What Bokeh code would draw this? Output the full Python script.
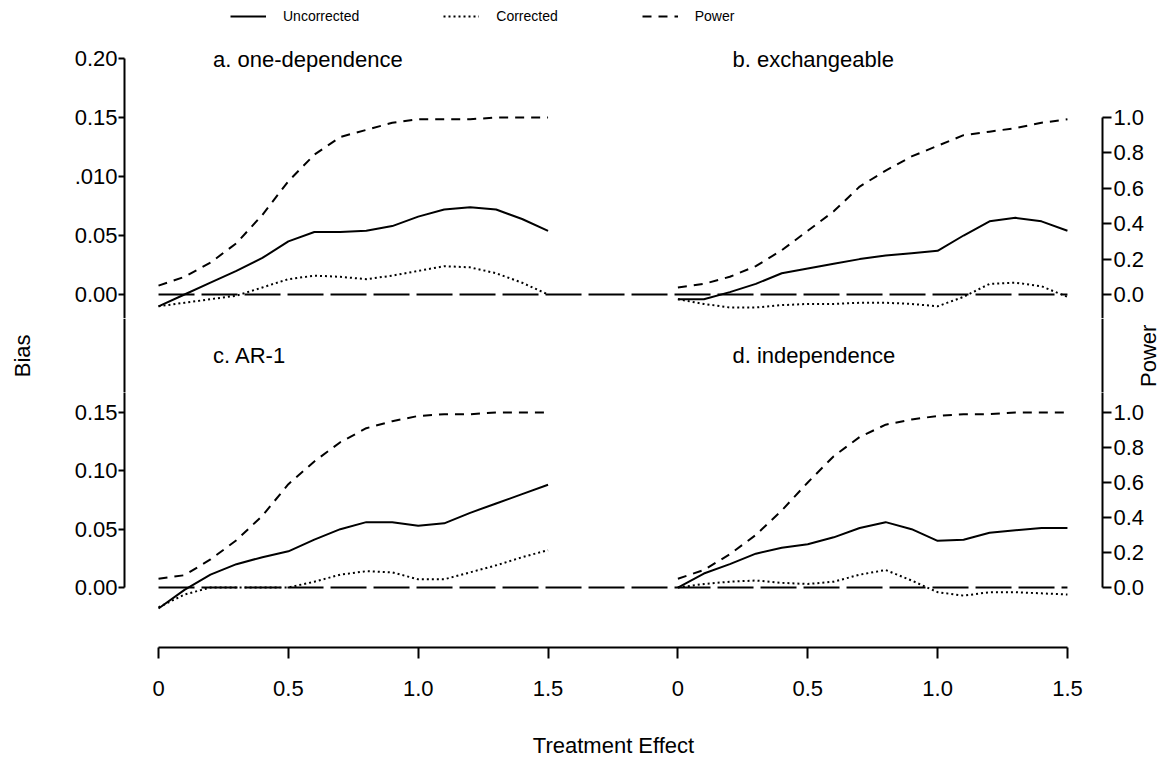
import math
from bokeh.plotting import figure
from bokeh.models import Range1d, LinearAxis, FixedTicker, Legend, LegendItem, Span
from bokeh.layouts import column
from bokeh.core.properties import value
from bokeh.embed import file_html
from bokeh.resources import INLINE

# ---------------- data ----------------
TREATMENT = [0.0, 0.1, 0.2, 0.3, 0.4, 0.5, 0.6, 0.7, 0.8, 0.9, 1.0, 1.1, 1.2, 1.3, 1.4, 1.5]

# a. one-dependence
UNCORR_A = [-0.010, 0.000, 0.010, 0.020, 0.031, 0.045, 0.053, 0.053, 0.054, 0.058, 0.066, 0.072, 0.074, 0.072, 0.064, 0.054]
CORR_A = [-0.010, -0.007, -0.004, -0.001, 0.006, 0.013, 0.016, 0.015, 0.013, 0.016, 0.020, 0.024, 0.023, 0.018, 0.010, 0.000]
POWER_A = [0.05, 0.10, 0.18, 0.29, 0.45, 0.64, 0.79, 0.89, 0.93, 0.97, 0.99, 0.99, 0.99, 1.00, 1.00, 1.00]

# b. exchangeable
UNCORR_B = [-0.004, -0.004, 0.002, 0.009, 0.018, 0.022, 0.026, 0.030, 0.033, 0.035, 0.037, 0.050, 0.062, 0.065, 0.062, 0.054]
CORR_B = [-0.004, -0.008, -0.011, -0.011, -0.009, -0.008, -0.008, -0.007, -0.007, -0.008, -0.010, -0.002, 0.009, 0.010, 0.007, -0.002]
POWER_B = [0.04, 0.06, 0.10, 0.16, 0.25, 0.36, 0.47, 0.61, 0.70, 0.78, 0.84, 0.90, 0.92, 0.94, 0.97, 0.99]

# c. AR-1
UNCORR_C = [-0.018, -0.002, 0.011, 0.020, 0.026, 0.031, 0.041, 0.050, 0.056, 0.056, 0.053, 0.055, 0.064, 0.072, 0.080, 0.088]
CORR_C = [-0.017, -0.006, 0.000, 0.000, 0.000, 0.000, 0.005, 0.011, 0.014, 0.013, 0.007, 0.007, 0.013, 0.019, 0.026, 0.032]
POWER_C = [0.05, 0.07, 0.16, 0.27, 0.41, 0.59, 0.72, 0.83, 0.91, 0.95, 0.98, 0.99, 0.99, 1.00, 1.00, 1.00]

# d. independence
UNCORR_D = [0.000, 0.012, 0.020, 0.029, 0.034, 0.037, 0.043, 0.051, 0.056, 0.050, 0.040, 0.041, 0.047, 0.049, 0.051, 0.051]
CORR_D = [0.000, 0.003, 0.005, 0.006, 0.004, 0.003, 0.005, 0.011, 0.015, 0.006, -0.004, -0.007, -0.004, -0.004, -0.005, -0.006]
POWER_D = [0.05, 0.10, 0.19, 0.30, 0.44, 0.60, 0.75, 0.86, 0.93, 0.96, 0.98, 0.99, 0.99, 1.00, 1.00, 1.00]

PANEL_TITLES = ["a. one-dependence", "b. exchangeable", "c. AR-1", "d. independence"]
SERIES_NAMES = ["Uncorrected", "Corrected", "Power"]
Y_LABEL_LEFT = "Bias"
Y_LABEL_RIGHT = "Power"
X_LABEL = "Treatment Effect"

X_TICKS = [0.0, 0.5, 1.0, 1.5]
X_TICK_LABELS = ["0", "0.5", "1.0", "1.5"]
BIAS_TICKS_TOP = [0.00, 0.05, 0.10, 0.15, 0.20]
BIAS_LABELS_TOP = ["0.00", "0.05", ".010", "0.15", "0.20"]
BIAS_TICKS_BOTTOM = [0.00, 0.05, 0.10, 0.15]
BIAS_LABELS_BOTTOM = ["0.00", "0.05", "0.10", "0.15"]
POWER_TICKS = [0.0, 0.2, 0.4, 0.6, 0.8, 1.0]
POWER_LABELS = ["0.0", "0.2", "0.4", "0.6", "0.8", "1.0"]
ZERO_BIAS = 0.0

# ---------------- layout / style ----------------
FONT = "Liberation Sans"
W = 1163
H_TOP = 318
H_MID = 74
H_BOTTOM = 370
BORDER_LEFT = 124
BORDER_RIGHT = 61
BORDER_BOTTOM = 115
PX_PER_UNIT = 259.7
PANEL_GAP = 2.0           # horizontal offset (axis units) of right-hand panels
X_RANGE = (-0.131, 3.635)
# the middle strip uses the full width, with the same pixel scale
MID_X_RANGE = (X_RANGE[0] - BORDER_LEFT / PX_PER_UNIT, X_RANGE[1] + BORDER_RIGHT / PX_PER_UNIT)
TOP_BIAS_RANGE = (-0.02034, 0.2492)
TOP_POWER_RANGE = (-0.1356, 1.661)
MID_BIAS_RANGE = (0.1671, 0.2305)
BOT_BIAS_RANGE = (-0.0514, 0.1671)
BOT_POWER_RANGE = (-0.343, 1.114)
TITLE_X = 0.21
TITLE_Y = 0.199
BIAS_LABEL_X = X_RANGE[0] - 102 / PX_PER_UNIT
POWER_LABEL_X = X_RANGE[1] + 46 / PX_PER_UNIT
AXIS_TITLE_Y = 0.1985
LW = 2
DOT = "2 3"
DASH = "9 7"
LONGDASH = "36 7"

x_range = Range1d(*X_RANGE)


def style_axis(ax, tick_out, standoff):
    ax.axis_line_width = 2
    ax.axis_line_color = "black"
    ax.major_tick_line_width = 2
    ax.major_tick_line_color = "black"
    ax.minor_tick_line_color = None
    ax.major_tick_in = 0
    ax.major_tick_out = tick_out
    ax.major_label_standoff = standoff
    ax.major_label_text_font = FONT
    ax.major_label_text_font_size = "22px"
    ax.major_label_text_color = "black"
    ax.axis_label_text_font = FONT
    ax.axis_label_text_font_size = "22px"
    ax.axis_label_text_font_style = "normal"
    ax.axis_label_text_color = "black"


def base_fig(height, xr, yr, bl, br, bb, show_x):
    p = figure(width=W, height=height, x_range=xr, y_range=Range1d(*yr),
               output_backend="svg", toolbar_location=None,
               x_axis_location="below" if show_x else None, y_axis_location=None,
               min_border_left=bl, min_border_right=br,
               min_border_top=0, min_border_bottom=bb)
    p.outline_line_color = None
    p.xgrid.visible = False
    p.ygrid.visible = False
    p.background_fill_color = "white"
    p.border_fill_color = "white"
    return p


def make_fig(height, bias_range, power_range, border_bottom, show_x):
    p = base_fig(height, x_range, bias_range, BORDER_LEFT, BORDER_RIGHT, border_bottom, show_x)
    p.extra_y_ranges = {"power": Range1d(*power_range)}
    return p


def draw_text(p, x, y, txt, angle=0.0, align="left"):
    p.text(x=[x], y=[y], text=[txt], angle=angle, text_font=value(FONT),
           text_font_size="22px", text_baseline="middle", text_align=align, text_color="black")


def draw_panel(p, offset, uncorr, corr, power):
    xs = [x + offset for x in TREATMENT]
    r1 = p.line(xs, uncorr, line_color="black", line_width=LW)
    r2 = p.line(xs, corr, line_color="black", line_width=LW, line_dash=DOT)
    r3 = p.line(xs, power, line_color="black", line_width=LW, line_dash=DASH, y_range_name="power")
    return r1, r2, r3


def zero_line(p):
    p.line([TREATMENT[0], TREATMENT[-1] + PANEL_GAP], [ZERO_BIAS, ZERO_BIAS],
           line_color="black", line_width=LW, line_dash=LONGDASH)


def add_y_axes(p, bias_ticks, bias_labels, bias_bounds, power_bounds):
    ax = LinearAxis(ticker=FixedTicker(ticks=bias_ticks),
                    major_label_overrides=dict(zip(bias_ticks, bias_labels)),
                    bounds=bias_bounds)
    style_axis(ax, 6, 1)
    p.add_layout(ax, "left")
    ax = LinearAxis(y_range_name="power", ticker=FixedTicker(ticks=POWER_TICKS),
                    major_label_overrides=dict(zip(POWER_TICKS, POWER_LABELS)),
                    bounds=power_bounds)
    style_axis(ax, 9, 2)
    p.add_layout(ax, "right")


# ---------------- top row ----------------
p1 = make_fig(H_TOP, TOP_BIAS_RANGE, TOP_POWER_RANGE, 0, False)
zero_line(p1)
ra = draw_panel(p1, 0.0, UNCORR_A, CORR_A, POWER_A)
draw_panel(p1, PANEL_GAP, UNCORR_B, CORR_B, POWER_B)
draw_text(p1, TITLE_X, TITLE_Y, PANEL_TITLES[0])
draw_text(p1, TITLE_X + PANEL_GAP, TITLE_Y, PANEL_TITLES[1])
add_y_axes(p1, BIAS_TICKS_TOP, BIAS_LABELS_TOP,
           (TOP_BIAS_RANGE[0], BIAS_TICKS_TOP[-1]), (TOP_POWER_RANGE[0], POWER_TICKS[-1]))

legend = Legend(items=[LegendItem(label=SERIES_NAMES[i], renderers=[ra[i]]) for i in range(3)],
                location=(106, H_TOP - 24), orientation="horizontal", glyph_width=36, glyph_height=14,
                label_standoff=17, spacing=84, padding=0, margin=0, border_line_color=None,
                background_fill_alpha=0, label_text_font=FONT, label_text_font_size="14px",
                label_text_color="black")
p1.add_layout(legend)

# ---------------- middle strip: axis titles, lower panel titles ----------------
pm = base_fig(H_MID, Range1d(*MID_X_RANGE), MID_BIAS_RANGE, 0, 0, 0, False)
if "frame_align" in pm.properties():
    pm.frame_align = False
for loc in X_RANGE:  # continuation of the left / right axis lines
    pm.add_layout(Span(location=loc, dimension="height", line_color="black", line_width=2))
draw_text(pm, TITLE_X, TITLE_Y, PANEL_TITLES[2])
draw_text(pm, TITLE_X + PANEL_GAP, TITLE_Y, PANEL_TITLES[3])
draw_text(pm, BIAS_LABEL_X, AXIS_TITLE_Y, Y_LABEL_LEFT, angle=math.pi / 2, align="center")
draw_text(pm, POWER_LABEL_X, AXIS_TITLE_Y, Y_LABEL_RIGHT, angle=math.pi / 2, align="center")

# ---------------- bottom row ----------------
p2 = make_fig(H_BOTTOM, BOT_BIAS_RANGE, BOT_POWER_RANGE, BORDER_BOTTOM, True)
zero_line(p2)
draw_panel(p2, 0.0, UNCORR_C, CORR_C, POWER_C)
draw_panel(p2, PANEL_GAP, UNCORR_D, CORR_D, POWER_D)
add_y_axes(p2, BIAS_TICKS_BOTTOM, BIAS_LABELS_BOTTOM,
           (BIAS_TICKS_BOTTOM[0], BOT_BIAS_RANGE[1]), (POWER_TICKS[0], BOT_POWER_RANGE[1]))

all_ticks = X_TICKS + [t + PANEL_GAP for t in X_TICKS]
xa = p2.xaxis[0]
xa.ticker = FixedTicker(ticks=all_ticks)
xa.major_label_overrides = dict(zip(all_ticks, X_TICK_LABELS + X_TICK_LABELS))
xa.bounds = (all_ticks[0], all_ticks[-1])
style_axis(xa, 11, 22)
xa.axis_label = X_LABEL
xa.axis_label_standoff = 34

layout = column(p1, pm, p2, spacing=0)
open("out.html", "w").write(file_html(layout, INLINE))
